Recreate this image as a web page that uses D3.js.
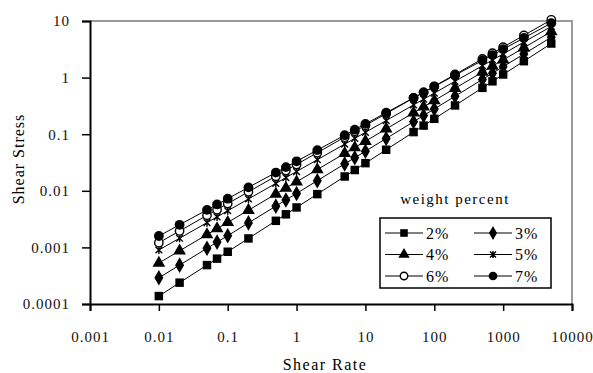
<!DOCTYPE html>
<html>
<head>
<meta charset="utf-8">
<script src="https://cdn.jsdelivr.net/npm/d3@7"></script>
<style>
  body { margin: 0; background: #fff; }
</style>
</head>
<body>
<figure id="chart" style="margin:0"></figure>
<script>
// shear rate values (x) shared by every series
const shearRate = [0.01, 0.02, 0.05, 0.07, 0.1, 0.2, 0.5, 0.7, 1, 2, 5, 7, 10, 20, 50, 70, 100, 200, 500, 700, 1000, 2000, 5000];

// shear stress for each weight percent
const stress2 = [1.38e-4, 2.38e-4, 4.87e-4, 6.33e-4, 8.38e-4, 1.44e-3, 2.95e-3, 3.84e-3, 5.08e-3, 8.74e-3, 0.0179, 0.0233, 0.0308, 0.0531, 0.109, 0.142, 0.187, 0.322, 0.659, 0.859, 1.135, 1.95, 4.0];
const stress3 = [2.9e-4, 4.86e-4, 9.63e-4, 1.24e-3, 1.61e-3, 2.71e-3, 5.36e-3, 6.89e-3, 8.99e-3, 0.0151, 0.0299, 0.0384, 0.0501, 0.084, 0.166, 0.214, 0.279, 0.468, 0.928, 1.19, 1.56, 2.61, 5.17];
const stress4 = [5.3e-4, 8.71e-4, 1.68e-3, 2.14e-3, 2.76e-3, 4.54e-3, 8.77e-3, 0.0112, 0.0144, 0.0237, 0.0457, 0.0582, 0.0752, 0.124, 0.239, 0.304, 0.393, 0.646, 1.25, 1.59, 2.05, 3.37, 6.5];
const stress5 = [9.0e-4, 1.45e-3, 2.74e-3, 3.46e-3, 4.44e-3, 7.17e-3, 0.0135, 0.0171, 0.0219, 0.0354, 0.0667, 0.0842, 0.108, 0.174, 0.329, 0.416, 0.532, 0.86, 1.62, 2.05, 2.62, 4.24, 8.01];
const stress6 = [1.21e-3, 1.95e-3, 3.68e-3, 4.64e-3, 5.94e-3, 9.59e-3, 0.0181, 0.0228, 0.0292, 0.0471, 0.0887, 0.112, 0.143, 0.231, 0.436, 0.549, 0.703, 1.135, 2.14, 2.7, 3.45, 5.57, 10.5];
const stress7 = [1.59e-3, 2.51e-3, 4.6e-3, 5.74e-3, 7.26e-3, 0.0115, 0.021, 0.0262, 0.0332, 0.0524, 0.096, 0.12, 0.152, 0.24, 0.439, 0.548, 0.693, 1.1, 2.01, 2.5, 3.17, 5.01, 9.17];

const seriesNames = ['2%', '3%', '4%', '5%', '6%', '7%'];
const seriesValues = [stress2, stress3, stress4, stress5, stress6, stress7];

const xTicks = [0.001, 0.01, 0.1, 1, 10, 100, 1000, 10000];
const xTickLabels = ['0.001', '0.01', '0.1', '1', '10', '100', '1000', '10000'];
const yTicks = [0.0001, 0.001, 0.01, 0.1, 1, 10];
const yTickLabels = ['0.0001', '0.001', '0.01', '0.1', '1', '10'];

const legendTitle = 'weight percent';

const serif = '"Liberation Serif", "Times New Roman", "DejaVu Serif", serif';

const margin = { top: 21, right: 21, bottom: 69, left: 90 };
const width = 593 - margin.left - margin.right;
const height = 373 - margin.top - margin.bottom;

const svg = d3.select('figure#chart')
  .append('svg')
  .attr('width', 593)
  .attr('height', 373);

const g = svg.append('g')
  .attr('transform', 'translate(' + margin.left + ',' + margin.top + ')');

const x = d3.scaleLog().domain([0.001, 10000]).range([0, width]);
const y = d3.scaleLog().domain([0.0001, 10]).range([height, 0]);

// marker shapes per series
const star = {
  draw(ctx, size) {
    const r = Math.sqrt(size) / 2;
    ctx.moveTo(-r, -r); ctx.lineTo(r, r);
    ctx.moveTo(-r, r); ctx.lineTo(r, -r);
    ctx.moveTo(0, -r * 1.2); ctx.lineTo(0, r * 1.2);
  }
};
const markers = [
  { type: d3.symbolSquare, size: 72, fill: '#000', stroke: 'none' },
  { type: d3.symbolDiamond, size: 70, fill: '#000', stroke: 'none' },
  { type: d3.symbolTriangle, size: 70, fill: '#000', stroke: 'none' },
  { type: star, size: 45, fill: 'none', stroke: '#000' },
  { type: d3.symbolCircle, size: 55, fill: '#fff', stroke: '#000' },
  { type: d3.symbolCircle, size: 75, fill: '#000', stroke: 'none' }
];

// top and right frame in grey
g.append('path')
  .attr('d', 'M0,0H' + width + 'V' + height)
  .attr('fill', 'none')
  .attr('stroke', '#999')
  .attr('stroke-width', 2);

// x axis
const xAxis = g.append('g')
  .attr('transform', 'translate(0,' + height + ')')
  .call(d3.axisBottom(x).tickValues(xTicks).tickFormat((d, i) => xTickLabels[i]).tickSize(7).tickPadding(20));
xAxis.select('.domain').attr('stroke', '#000').attr('stroke-width', 2);
xAxis.selectAll('.tick line').attr('stroke', '#000').attr('stroke-width', 1.5);
xAxis.selectAll('text')
  .style('font-family', serif)
  .style('font-size', '15px')
  .style('letter-spacing', '1px')
  .attr('fill', '#111');

// y axis
const yAxis = g.append('g')
  .call(d3.axisLeft(y).tickValues(yTicks).tickFormat((d, i) => yTickLabels[i]).tickSize(8).tickPadding(12));
yAxis.select('.domain').attr('stroke', '#000').attr('stroke-width', 2);
yAxis.selectAll('.tick line').attr('stroke', '#000').attr('stroke-width', 1.5);
yAxis.selectAll('text')
  .style('font-family', serif)
  .style('font-size', '15px')
  .style('letter-spacing', '1px')
  .attr('fill', '#111');

// axis titles
svg.append('text')
  .attr('x', 325)
  .attr('y', 370)
  .attr('text-anchor', 'middle')
  .style('font-family', serif)
  .style('font-size', '16px')
  .style('letter-spacing', '1.5px')
  .text('Shear Rate');

svg.append('text')
  .attr('transform', 'translate(24,159)rotate(-90)')
  .attr('text-anchor', 'middle')
  .style('font-family', serif)
  .style('font-size', '16px')
  .style('letter-spacing', '1px')
  .text('Shear Stress');

// lines and markers
const line = d3.line()
  .x((d, i) => x(shearRate[i]))
  .y(d => y(d));

seriesValues.forEach((values, s) => {
  g.append('path')
    .datum(values)
    .attr('d', line)
    .attr('fill', 'none')
    .attr('stroke', '#000')
    .attr('stroke-width', 1);
});

seriesValues.forEach((values, s) => {
  const m = markers[s];
  g.selectAll('.pt' + s)
    .data(values)
    .enter()
    .append('path')
    .attr('transform', (d, i) => 'translate(' + x(shearRate[i]) + ',' + y(d) + ')')
    .attr('d', d3.symbol().type(m.type).size(m.size))
    .attr('fill', m.fill)
    .attr('stroke', m.stroke)
    .attr('stroke-width', 1.4);
});

// legend
svg.append('text')
  .attr('x', 455)
  .attr('y', 204)
  .attr('text-anchor', 'middle')
  .style('font-family', serif)
  .style('font-size', '15px')
  .style('letter-spacing', '1.5px')
  .text(legendTitle);

svg.append('rect')
  .attr('x', 380)
  .attr('y', 218)
  .attr('width', 171)
  .attr('height', 70)
  .attr('fill', '#fff')
  .attr('stroke', '#000')
  .attr('stroke-width', 1.5);

seriesNames.forEach((name, s) => {
  const col = s % 2;
  const row = Math.floor(s / 2);
  const lx = 385 + col * 89;
  const ly = 233 + row * 21.5;
  const m = markers[s];
  const item = svg.append('g');
  item.append('line')
    .attr('x1', lx).attr('x2', lx + 38)
    .attr('y1', ly).attr('y2', ly)
    .attr('stroke', '#000')
    .attr('stroke-width', 1);
  item.append('path')
    .attr('transform', 'translate(' + (lx + 19) + ',' + ly + ')')
    .attr('d', d3.symbol().type(m.type).size(m.size * 0.8))
    .attr('fill', m.fill)
    .attr('stroke', m.stroke)
    .attr('stroke-width', 1.4);
  item.append('text')
    .attr('x', lx + 41)
    .attr('y', ly + 5.5)
    .style('font-family', serif)
    .style('font-size', '16px')
    .style('letter-spacing', '1px')
    .text(name);
});
</script>
</body>
</html>
